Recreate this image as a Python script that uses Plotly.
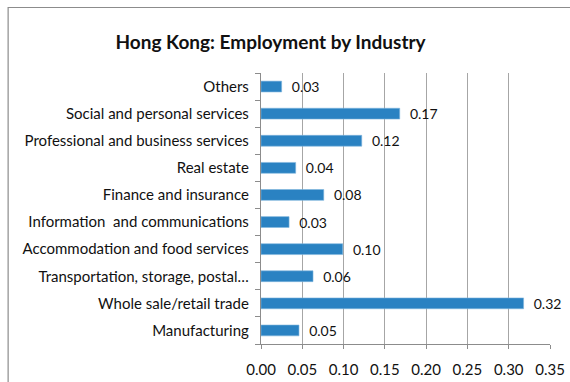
import plotly.graph_objects as go

categories = [
    "Manufacturing",
    "Whole sale/retail trade",
    "Transportation, storage, postal…",
    "Accommodation and food services",
    "Information  and communications",
    "Finance and insurance",
    "Real estate",
    "Professional and business services",
    "Social and personal services",
    "Others",
]
values = [0.046, 0.318, 0.063, 0.099, 0.034, 0.076, 0.042, 0.122, 0.168, 0.025]
x_ticks = [0.0, 0.05, 0.10, 0.15, 0.20, 0.25, 0.30, 0.35]
x_tick_labels = ["0.00", "0.05", "0.10", "0.15", "0.20", "0.25", "0.30", "0.35"]

FONT = "Lato, sans-serif"

fig = go.Figure(
    go.Bar(
        x=values,
        y=categories,
        orientation="h",
        width=0.4,
        marker=dict(color="#2a82c2", line=dict(color="#7fb6de", width=0.6)),
        texttemplate="\u00a0\u00a0%{x:.2f}",
        textposition="outside",
        constraintext="none",
        textfont=dict(family=FONT, size=14, color="#111111"),
        cliponaxis=False,
    )
)

fig.update_layout(
    width=570,
    height=382,
    margin=dict(l=261, r=20, t=73, b=38, autoexpand=False),
    paper_bgcolor="white",
    plot_bgcolor="white",
    showlegend=False,
    title=dict(
        text="<b>Hong Kong: Employment by Industry</b>",
        x=0.4746,
        xanchor="center",
        y=0.89,
        yanchor="middle",
        font=dict(family=FONT, size=19, color="#111111"),
    ),
    font=dict(family=FONT, size=15, color="#111111"),
    xaxis=dict(
        range=[0, 0.35],
        tickvals=x_ticks,
        ticktext=x_tick_labels,
        showgrid=True,
        gridcolor="#a6a6a6",
        gridwidth=1.3,
        showline=True,
        linecolor="#8c8c8c",
        linewidth=1.3,
        ticks="outside",
        ticklen=4,
        tickcolor="#8c8c8c",
        zeroline=False,
        automargin=False,
        ticklabelstandoff=8,
        tickfont=dict(family=FONT, size=15, color="#111111"),
    ),
    yaxis=dict(
        categoryorder="array",
        categoryarray=categories,
        showline=True,
        linecolor="#8c8c8c",
        linewidth=1.3,
        ticks="outside",
        tickson="boundaries",
        ticklen=5,
        tickcolor="#8c8c8c",
        showgrid=False,
        automargin=False,
        tickfont=dict(family=FONT, size=15, color="#111111"),
        ticklabelstandoff=8,
    ),
    shapes=[
        dict(
            type="rect",
            xref="paper",
            yref="paper",
            x0=-0.875,
            x1=1.3,
            y0=-0.3,
            y1=1.2417,
            line=dict(color="#8c8c8c", width=1.2),
            fillcolor="rgba(0,0,0,0)",
            layer="below",
        )
    ],
)

fig.write_html(
    "out.html",
    config={"displayModeBar": False},
    post_script="document.body.style.margin='0';document.body.style.overflow='hidden';",
)
